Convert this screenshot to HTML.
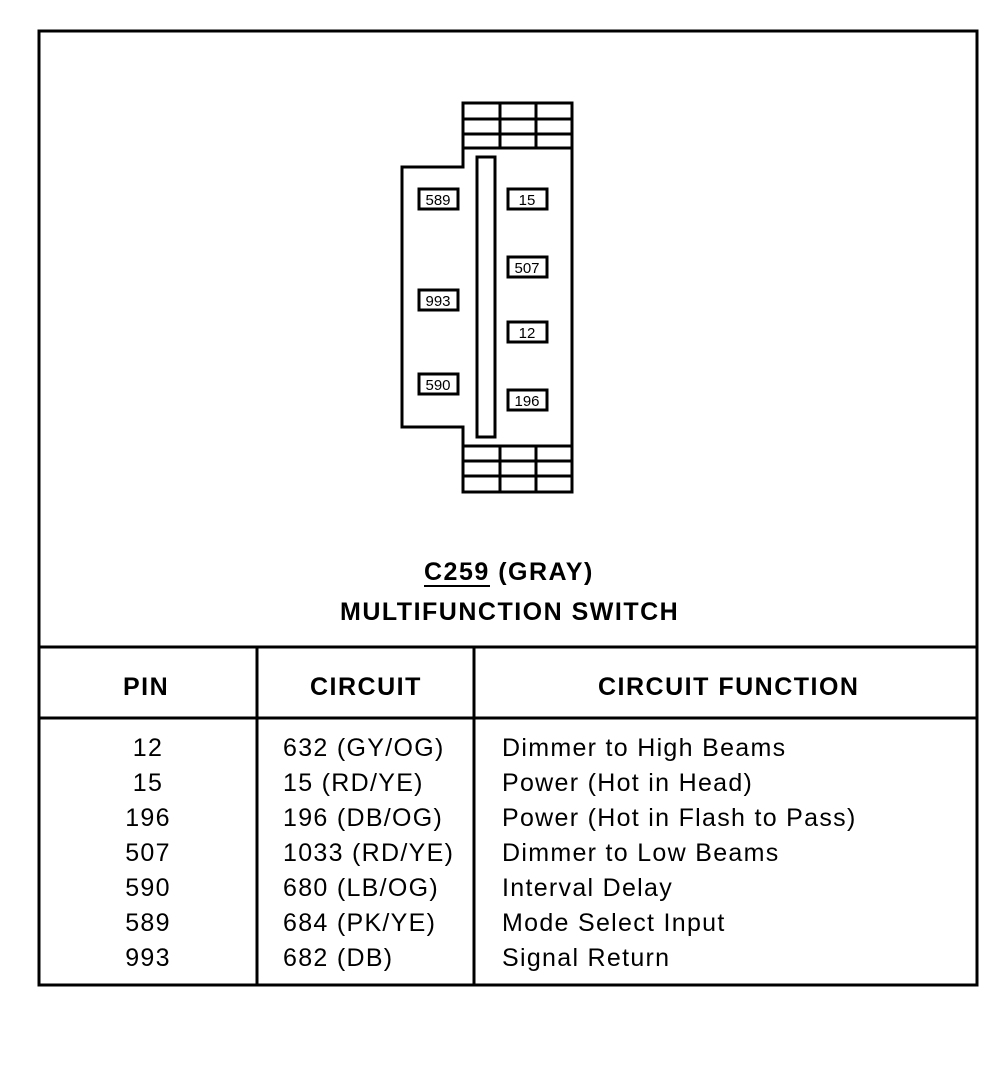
<!DOCTYPE html>
<html><head><meta charset="utf-8"><style>
html,body{margin:0;padding:0;background:#fff;}
svg{display:block;}
text{font-family:"Liberation Sans",Arial,sans-serif;fill:#000;}
</style></head><body>
<svg width="998" height="1072" viewBox="0 0 998 1072" xmlns="http://www.w3.org/2000/svg">
<g fill="none" stroke="#000" stroke-width="3">
<rect x="39" y="31" width="938" height="954"/>
<line x1="39" y1="647" x2="977" y2="647"/>
<line x1="39" y1="718" x2="977" y2="718"/>
<line x1="257" y1="647" x2="257" y2="985"/>
<line x1="474" y1="647" x2="474" y2="985"/>
<rect x="463" y="103" width="109" height="45"/>
<line x1="463" y1="119" x2="572" y2="119"/>
<line x1="463" y1="134" x2="572" y2="134"/>
<line x1="500" y1="103" x2="500" y2="148"/>
<line x1="536" y1="103" x2="536" y2="148"/>
<rect x="463" y="446" width="109" height="46"/>
<line x1="463" y1="461" x2="572" y2="461"/>
<line x1="463" y1="476" x2="572" y2="476"/>
<line x1="500" y1="446" x2="500" y2="492"/>
<line x1="536" y1="446" x2="536" y2="492"/>
<path d="M463 148 L572 148 L572 446 L463 446 L463 427 L402 427 L402 167 L463 167 Z"/>
<rect x="477" y="157" width="18" height="280"/>
<rect x="419" y="189" width="39" height="20"/>
<rect x="419" y="290" width="39" height="20"/>
<rect x="419" y="374" width="39" height="20"/>
<rect x="508" y="189" width="39" height="20"/>
<rect x="508" y="257" width="39" height="20"/>
<rect x="508" y="322" width="39" height="20"/>
<rect x="508" y="390" width="39" height="20"/>
<line x1="424" y1="586" x2="490" y2="586" stroke-width="2"/>
</g>
<g font-size="15" text-anchor="middle">
<text x="438" y="205">589</text>
<text x="438" y="306">993</text>
<text x="438" y="390">590</text>
<text x="527" y="205">15</text>
<text x="527" y="273">507</text>
<text x="527" y="338">12</text>
<text x="527" y="406">196</text>
</g>
<g font-size="25" font-weight="bold" letter-spacing="1.5">
<text x="424" y="580">C259 (GRAY)</text>
<text x="340" y="620">MULTIFUNCTION SWITCH</text>
<text x="123" y="695">PIN</text>
<text x="310" y="695">CIRCUIT</text>
<text x="598" y="695">CIRCUIT FUNCTION</text>
</g>
<g font-size="25" letter-spacing="1.3">
<g text-anchor="middle">
<text x="148" y="756">12</text>
<text x="148" y="791">15</text>
<text x="148" y="826">196</text>
<text x="148" y="861">507</text>
<text x="148" y="896">590</text>
<text x="148" y="931">589</text>
<text x="148" y="966">993</text>
</g>
<text x="283" y="756">632 (GY/OG)</text>
<text x="283" y="791">15 (RD/YE)</text>
<text x="283" y="826">196 (DB/OG)</text>
<text x="283" y="861">1033 (RD/YE)</text>
<text x="283" y="896">680 (LB/OG)</text>
<text x="283" y="931">684 (PK/YE)</text>
<text x="283" y="966">682 (DB)</text>
<text x="502" y="756">Dimmer to High Beams</text>
<text x="502" y="791">Power (Hot in Head)</text>
<text x="502" y="826">Power (Hot in Flash to Pass)</text>
<text x="502" y="861">Dimmer to Low Beams</text>
<text x="502" y="896">Interval Delay</text>
<text x="502" y="931">Mode Select Input</text>
<text x="502" y="966">Signal Return</text>
</g>
</svg>
</body></html>
